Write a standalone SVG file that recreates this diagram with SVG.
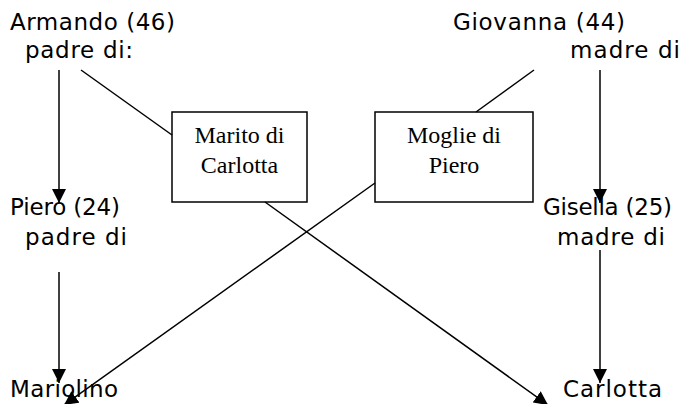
<svg xmlns="http://www.w3.org/2000/svg" width="682" height="404" viewBox="0 0 682 404">
<defs>
<style>
.lbl{font-family:"DejaVu Sans","Liberation Sans",sans-serif;font-size:23px;fill:#000}
.box{fill:#fff;stroke:#000;stroke-width:1.5}
.bt{font-family:"Liberation Serif","Times New Roman",serif;font-size:24px;fill:#000;text-anchor:middle}
.c{stroke:#000;stroke-width:1.5;fill:none}
.a{marker-end:url(#ah)}
</style>
<marker id="ah" markerUnits="userSpaceOnUse" viewBox="0 0 14 14" refX="14" refY="7" markerWidth="14" markerHeight="14" orient="auto">
<path d="M0,0 L14,7 L0,14 Z" fill="#000"/>
</marker>
</defs>
<rect width="682" height="404" fill="#fff"/>
<g id="armando"><text class="lbl" x="10" y="30" textLength="165">Armando (46)</text><text class="lbl" x="25" y="58" textLength="108">padre di:</text></g>
<g id="giovanna"><text class="lbl" x="453" y="30" textLength="172">Giovanna (44)</text><text class="lbl" x="570" y="58" textLength="110">madre di</text></g>
<g id="piero"><text class="lbl" x="10" y="215" textLength="110">Piero (24)</text><text class="lbl" x="25" y="245" textLength="102">padre di</text></g>
<g id="gisella"><text class="lbl" x="543" y="215" textLength="129">Gisella (25)</text><text class="lbl" x="557" y="245" textLength="108">madre di</text></g>
<g id="mariolino"><text class="lbl" x="10" y="397" textLength="108">Mariolino</text></g>
<g id="carlotta"><text class="lbl" x="563" y="397" textLength="99">Carlotta</text></g>
<g id="marito"><rect class="box" x="172" y="112" width="135" height="90"/><text class="bt" x="239.5" y="143">Marito di</text><text class="bt" x="239.5" y="173">Carlotta</text></g>
<g id="moglie"><rect class="box" x="375" y="112" width="158" height="90"/><text class="bt" x="454" y="143">Moglie di</text><text class="bt" x="454" y="173">Piero</text></g>
<g id="connectors">
<line class="c a" x1="59" y1="70" x2="59" y2="203"/>
<line class="c" x1="81" y1="70" x2="172" y2="135"/>
<line class="c" x1="534" y1="70" x2="476" y2="112"/>
<line class="c a" x1="600" y1="70" x2="600" y2="203"/>
<line class="c a" x1="59" y1="272" x2="59" y2="383"/>
<line class="c a" x1="600" y1="250" x2="600" y2="383"/>
<line class="c a" x1="265" y1="202" x2="548" y2="405"/>
<line class="c a" x1="375" y1="183" x2="64" y2="405"/>
</g>
</svg>
